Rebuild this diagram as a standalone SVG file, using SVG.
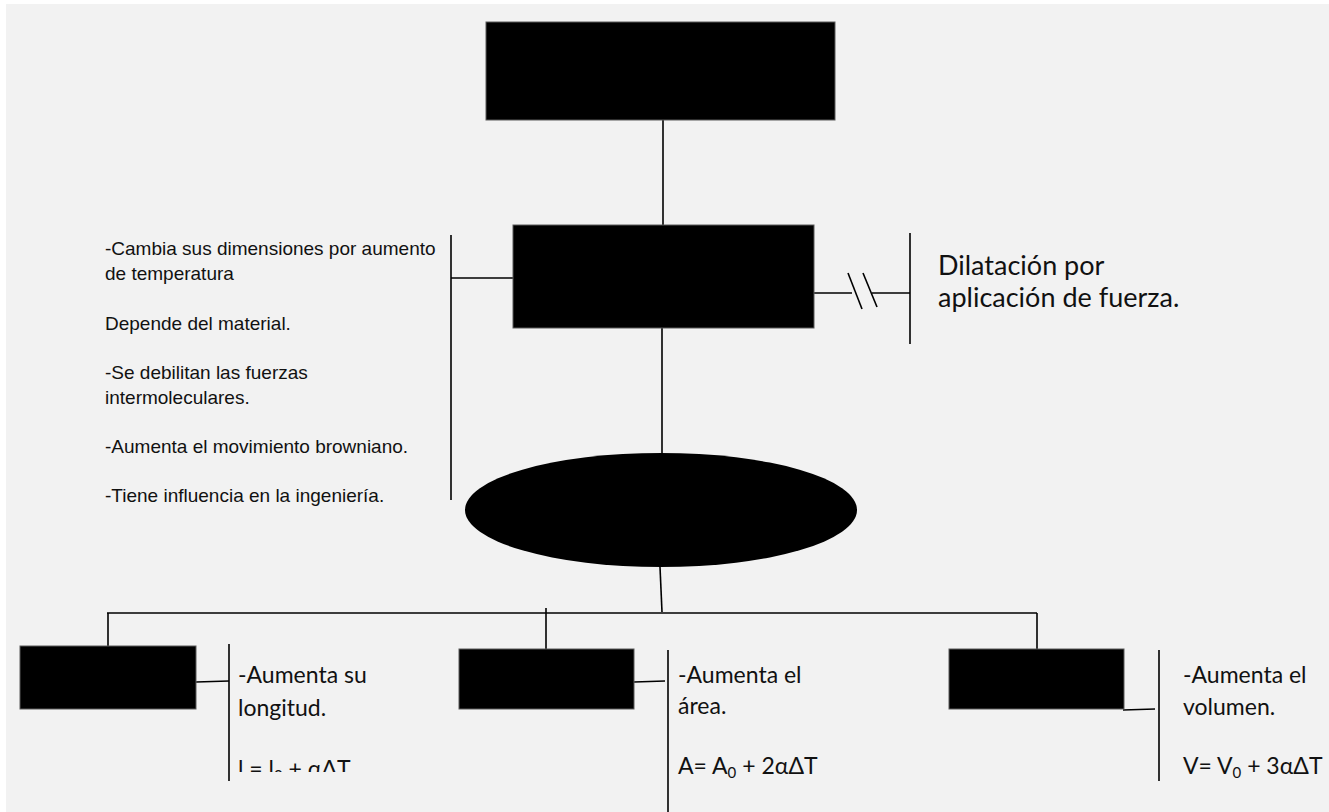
<svg xmlns="http://www.w3.org/2000/svg" width="1329" height="812" viewBox="0 0 1329 812">
<style>
.box{fill:#000;stroke:#5a5a5a;stroke-width:1}
.ln{stroke:#000;stroke-width:1.6;fill:none}
.arial{font-family:"Liberation Sans",Arial,sans-serif;font-size:19px;fill:#111}
.cal{font-family:Lato,"Open Sans",sans-serif;fill:#111}
.big{font-size:27px}
.mid{font-size:23px}
.sub{font-size:15px}
</style>
<defs>
<clipPath id="clipL"><rect x="230" y="640" width="200" height="132"/></clipPath>
</defs>
<rect x="0" y="0" width="1329" height="812" fill="#fff"/>
<rect x="6" y="4" width="1323" height="808" fill="#f2f2f2"/>

<g id="connectors">
<line class="ln" x1="663" y1="120" x2="663" y2="225"/>
<line class="ln" x1="451" y1="235" x2="451" y2="500"/>
<line class="ln" x1="451" y1="278" x2="513" y2="278"/>
<line class="ln" x1="814" y1="293" x2="852" y2="293"/>
<line class="ln" x1="848" y1="273" x2="862" y2="309"/>
<line class="ln" x1="863" y1="273" x2="877" y2="307"/>
<line class="ln" x1="872" y1="293" x2="910" y2="293"/>
<line class="ln" x1="910" y1="233" x2="910" y2="344"/>
<line class="ln" x1="662" y1="328" x2="662" y2="453"/>
<line class="ln" x1="660" y1="567" x2="662" y2="612"/>
<line class="ln" x1="107" y1="613" x2="1037" y2="613"/>
<line class="ln" x1="108" y1="613" x2="108" y2="646"/>
<line class="ln" x1="546" y1="608" x2="546" y2="649"/>
<line class="ln" x1="1037" y1="613" x2="1037" y2="649"/>
<line class="ln" x1="196" y1="682" x2="229" y2="681"/>
<line class="ln" x1="229" y1="644" x2="229" y2="781"/>
<line class="ln" x1="634" y1="682" x2="665" y2="681"/>
<line class="ln" x1="668" y1="650" x2="668" y2="812"/>
<line class="ln" x1="1123" y1="710" x2="1155" y2="709"/>
<line class="ln" x1="1159" y1="650" x2="1159" y2="781"/>
</g>

<g id="node-top"><rect class="box" x="486" y="22" width="349" height="98"/></g>
<g id="node-mid"><rect class="box" x="513" y="225" width="301" height="103"/></g>
<g id="node-ellipse"><ellipse cx="661" cy="510" rx="196" ry="57" fill="#000"/></g>
<g id="node-linear"><rect class="box" x="20" y="646" width="176" height="63"/></g>
<g id="node-area"><rect class="box" x="459" y="649" width="175" height="60"/></g>
<g id="node-volume"><rect class="box" x="949" y="649" width="175" height="60"/></g>

<g id="note-left" class="arial">
<text x="105" y="255">-Cambia sus dimensiones por aumento</text>
<text x="105" y="280">de temperatura</text>
<text x="105" y="330">Depende del material.</text>
<text x="105" y="379">-Se debilitan las fuerzas</text>
<text x="105" y="404">intermoleculares.</text>
<text x="105" y="453">-Aumenta el movimiento browniano.</text>
<text x="105" y="502">-Tiene influencia en la ingeniería.</text>
</g>

<g id="note-right" class="cal big">
<text x="938" y="275">Dilatación por</text>
<text x="938" y="307">aplicación de fuerza.</text>
</g>

<g id="note-linear" class="cal mid">
<text x="238" y="683">-Aumenta su</text>
<text x="238" y="716">longitud.</text>
<text x="238" y="777" clip-path="url(#clipL)">l = l<tspan class="sub" dy="4">0</tspan><tspan dy="-4"> + αΔT</tspan></text>
</g>

<g id="note-area" class="cal mid">
<text x="678" y="683">-Aumenta el</text>
<text x="678" y="714">área.</text>
<text x="678" y="774">A= A<tspan class="sub" dy="4">0</tspan><tspan dy="-4"> + 2αΔT</tspan></text>
</g>

<g id="note-volume" class="cal mid">
<text x="1183" y="683">-Aumenta el</text>
<text x="1183" y="715">volumen.</text>
<text x="1183" y="774">V= V<tspan class="sub" dy="4">0</tspan><tspan dy="-4"> + 3αΔT</tspan></text>
</g>
</svg>
